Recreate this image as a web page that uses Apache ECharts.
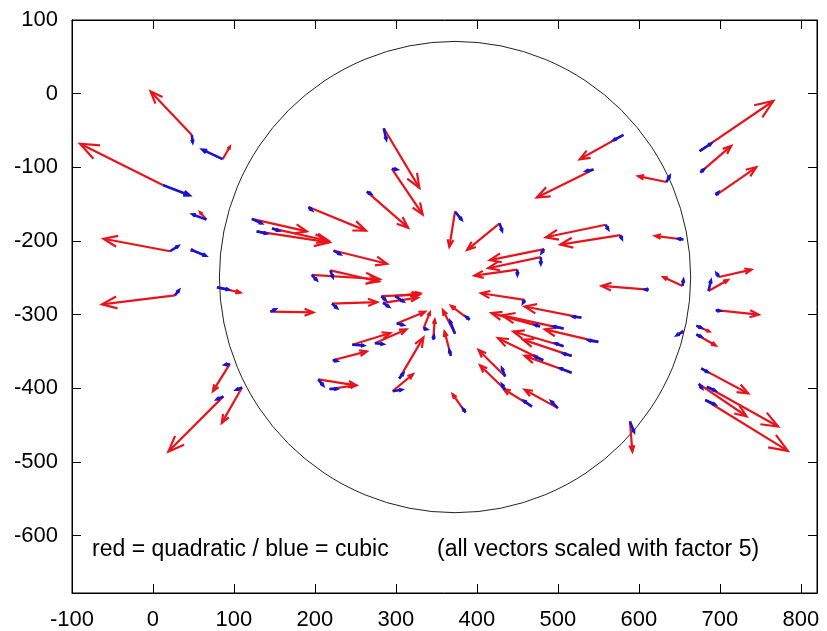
<!DOCTYPE html>
<html>
<head>
<meta charset="utf-8">
<title>quadratic vs cubic vectors</title>
<script src="https://cdn.jsdelivr.net/npm/echarts@6/dist/echarts.min.js"></script>
<style>
  html, body { margin: 0; padding: 0; background: #fff; }
  #chart { width: 827px; height: 631px; }
</style>
</head>
<body>
<div id="chart"></div>
<script>
// base points of the vectors (data units)
const baseX = [48, 86, 12, 66, 21, 47, 27, 79,
  285, 295, 264, 192, 122, 128, 147, 223, 196, 219, 145, 221, 282, 284, 299,
  581, 544, 634, 373, 428, 559, 577, 655, 483, 479, 450, 612, 654, 459, 529,
  478, 507, 550, 507, 517, 482, 517, 435, 435, 468, 500, 386, 391, 373, 368, 346,
  95, 110, 87, 301, 334, 274, 246, 222, 304, 296, 204, 218,
  699, 686, 695, 671, 671, 655, 677, 674, 684, 682, 589, 675, 676, 695]
const baseY = [-56, -89, -124, -171, -214, -212, -274, -263,
  -47, -102, -133, -154, -170, -187, -183, -213, -246, -240, -296, -285, -275, -284, -275,
  -56, -103, -120, -160, -176, -178, -192, -198, -211, -222, -239, -266, -261, -280, -304,
  -316, -319, -337, -343, -356, -362, -379, -384, -402, -425, -427, -433, -307, -326, -356, -334,
  -367, -399, -411, -312, -319, -339, -341, -362, -387, -404, -388, -401,
  -249, -268, -294, -315, -327, -323, -373, -394, -398, -416, -445, -78, -107, -138]

// red: quadratic fit vectors (already scaled with factor 5)
const quadDX = [-51, 9, -102, -8, -82, 3, -90, 29,
  44, 38, 51, 71, 68, 90, 70, 66, 84, 60, 53, 56, 47, 43, 31,
  -54, -70, -35, -7, -40, -74, -74, -35, -67, -65, -53, -58, -24, -54, -70,
  -60, -76, -66, -62, -60, -56, -58, -33, -31, -35, -41, -16, -23, -15, -8, 2,
  -21, -25, -68, 35, 8, 39, 47, 42, 30, 25, 47, 32,
  40, 24, 53, 16, 24, -3, 58, 59, 88, 102, 3, 91, 38, 50]
const quadDY = [59, 17, 56, 10, 17, -1, -12, -7,
  -81, -62, -49, -32, -17, -15, -17, -18, -6, -15, -1, 2, 2, 7, 4,
  -33, -38, 8, -48, -36, -17, -13, 5, -15, -15, -8, 5, 12, 9, 15,
  18, 18, 17, 20, 22, 30, 23, 36, 33, 24, 25, 25, 19, 32, 33, 27,
  -37, -48, -75, 16, 22, 19, 16, 12, 56, 23, -8, 5,
  10, 15, -6, -8, -15, -1, -34, -44, -54, -69, -41, 68, 36, 38]

// blue: cubic fit vectors (already scaled with factor 5)
const cubicDX = [1, -25, 33, -17, 10, 18, 5, 14,
  3, 6, 5, 4, 12, 12, 8, 8, 6, 3, 6, 6, 5, 7, 10,
  -12, -9, 4, 8, 3, 3, 2, -6, -3, 0, 0, -4, 1, -2, -10,
  -6, -12, -12, -10, -10, -10, -14, -4, -4, -10, -8, -3, -4, -6, -2, 1,
  -6, -7, -8, 8, 4, 10, 14, 5, 5, 11, 6, 9,
  -3, 3, 5, 6, 6, -8, 8, 4, 10, 12, 5, 14, 4, 3]
const cubicDY = [-10, 13, -14, 7, 7, -8, 7, -3,
  -15, -1, -3, -4, -6, -3, -3, -5, -7, -9, 3, -6, -5, -5, -7,
  -7, -2, 8, -11, -10, -6, -5, 1, -5, -9, -7, 0, 8, -4, 1,
  2, 3, 2, 4, 3, 5, 6, 11, 7, 8, 9, 5, 4, 17, 7, 5,
  -1, -3, -4, -2, -1, -1, -1, -1, 7, 2, -8, 0,
  5, 14, -1, -3, -3, -5, -5, -6, -5, -6, -14, 10, 4, 4]

// reference circle: centre and radius (x units)
const circle = [[373, -249, 291]]

const xTicks = [-100, 0, 100, 200, 300, 400, 500, 600, 700, 800]
const yTicks = [-600, -500, -400, -300, -200, -100, 0, 100]

const fontFamily = '"Liberation Sans", Arial, Helvetica, sans-serif'

function vectorData(dxs, dys) {
  return baseX.map((x, i) => [x, baseY[i], dxs[i], dys[i]])
}

function arrowRenderer(color, width) {
  return function (params, api) {
    const x = api.value(0)
    const y = api.value(1)
    const p0 = api.coord([x, y])
    const p1 = api.coord([x + api.value(2), y + api.value(3)])
    const vx = p1[0] - p0[0]
    const vy = p1[1] - p0[1]
    const len = Math.sqrt(vx * vx + vy * vy) || 1
    const head = Math.min(20, Math.max(3, len * 0.22))
    const ang = Math.atan2(vy, vx)
    const spread = 0.38
    const h1 = [p1[0] - head * Math.cos(ang - spread), p1[1] - head * Math.sin(ang - spread)]
    const h2 = [p1[0] - head * Math.cos(ang + spread), p1[1] - head * Math.sin(ang + spread)]
    return {
      type: 'group',
      children: [
        {
          type: 'line',
          shape: { x1: p0[0], y1: p0[1], x2: p1[0], y2: p1[1] },
          style: { stroke: color, lineWidth: width }
        },
        {
          type: 'polyline',
          shape: { points: [h1, p1, h2] },
          style: { stroke: color, lineWidth: width, fill: null }
        }
      ]
    }
  }
}

const chart = echarts.init(document.getElementById('chart'), null, { renderer: 'canvas' })

const tickStyle = { show: true, inside: true, length: 9, lineStyle: { color: '#000', width: 1 } }

const option = {
  backgroundColor: '#fff',
  animation: false,
  grid: {
    left: 72,
    right: 10,
    top: 20,
    bottom: 38,
    show: true,
    borderColor: '#000',
    borderWidth: 1
  },
  xAxis: [
    {
      type: 'value',
      min: -100,
      max: 820,
      position: 'bottom',
      splitLine: { show: false },
      axisLine: { show: true, onZero: false, lineStyle: { color: '#000' } },
      axisTick: Object.assign({ customValues: xTicks }, tickStyle),
      axisLabel: {
        customValues: xTicks,
        color: '#000',
        fontSize: 22,
        fontFamily: fontFamily,
        margin: 16
      }
    },
    {
      type: 'value',
      min: -100,
      max: 820,
      position: 'top',
      splitLine: { show: false },
      axisLine: { show: true, onZero: false, lineStyle: { color: '#000' } },
      axisTick: Object.assign({ customValues: xTicks }, tickStyle),
      axisLabel: { show: false }
    }
  ],
  yAxis: [
    {
      type: 'value',
      min: -678,
      max: 100,
      position: 'left',
      splitLine: { show: false },
      axisLine: { show: true, onZero: false, lineStyle: { color: '#000' } },
      axisTick: Object.assign({ customValues: yTicks }, tickStyle),
      axisLabel: {
        customValues: yTicks,
        color: '#000',
        fontSize: 22,
        fontFamily: fontFamily,
        margin: 14
      }
    },
    {
      type: 'value',
      min: -678,
      max: 100,
      position: 'right',
      splitLine: { show: false },
      axisLine: { show: true, onZero: false, lineStyle: { color: '#000' } },
      axisTick: Object.assign({ customValues: yTicks }, tickStyle),
      axisLabel: { show: false }
    }
  ],
  graphic: [
    {
      type: 'text',
      left: 92,
      top: 538,
      style: {
        text: 'red = quadratic / blue = cubic',
        fill: '#000',
        font: '23px ' + fontFamily
      }
    },
    {
      type: 'text',
      left: 437,
      top: 538,
      style: {
        text: '(all vectors scaled with factor 5)',
        fill: '#000',
        font: '23px ' + fontFamily
      }
    }
  ],
  series: [
    {
      name: 'circle',
      type: 'custom',
      xAxisIndex: 0,
      yAxisIndex: 0,
      encode: { x: 0, y: 1 },
      data: circle,
      renderItem: function (params, api) {
        const c = api.coord([api.value(0), api.value(1)])
        const r = api.size([api.value(2), 0])[0]
        return {
          type: 'circle',
          shape: { cx: c[0], cy: c[1], r: r },
          style: { stroke: '#222', fill: null, lineWidth: 1 }
        }
      }
    },
    {
      name: 'quadratic',
      type: 'custom',
      xAxisIndex: 0,
      yAxisIndex: 0,
      encode: { x: 0, y: 1 },
      data: vectorData(quadDX, quadDY),
      renderItem: arrowRenderer('#e8141c', 2.2)
    },
    {
      name: 'cubic',
      type: 'custom',
      xAxisIndex: 0,
      yAxisIndex: 0,
      encode: { x: 0, y: 1 },
      data: vectorData(cubicDX, cubicDY),
      renderItem: arrowRenderer('#1414d2', 2.6)
    }
  ]
}

chart.setOption(option)
</script>
</body>
</html>
